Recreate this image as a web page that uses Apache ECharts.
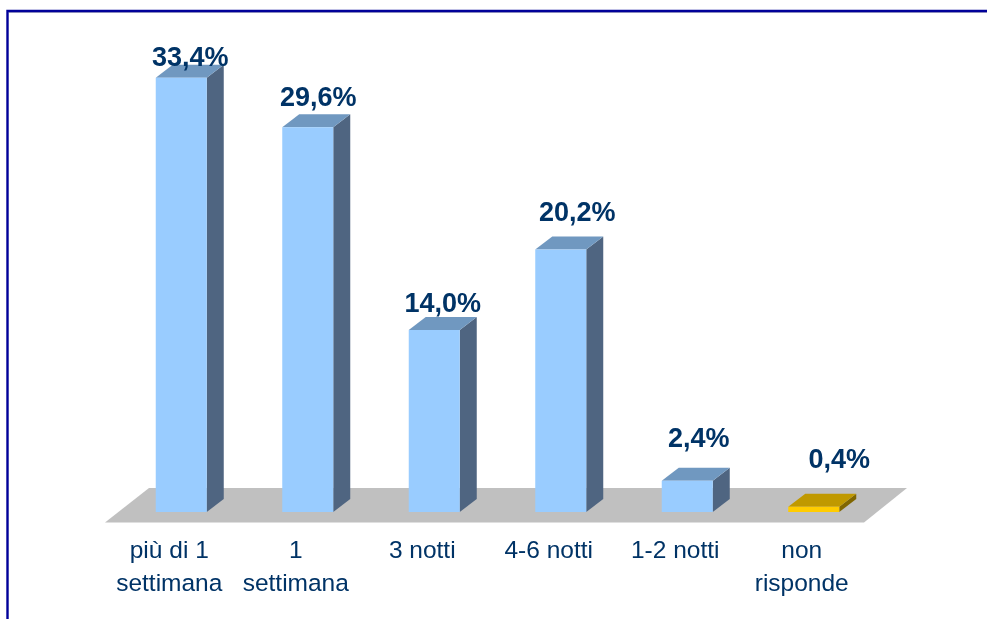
<!DOCTYPE html>
<html><head><meta charset="utf-8">
<style>html,body{margin:0;padding:0;background:#fff}
#c{width:987px;height:619px;position:relative}
#chart{width:987px;height:619px}
</style>
<script src="https://cdn.jsdelivr.net/npm/echarts@6/dist/echarts.min.js"></script>
</head><body><div id="c"><div id="chart"></div></div>
<script>
const categories = ['più di 1\nsettimana','1\nsettimana','3 notti','4-6 notti','1-2 notti','non\nrisponde'];
const values = [33.4,29.6,14.0,20.2,2.4,0.4];
const valueLabels = ['33,4%','29,6%','14,0%','20,2%','2,4%','0,4%'];
const labelNudgeY = [-7,2,-1,9,15,20];
const labelNudgeX = [0.5,2,0,8,3,17];
const faceColors = ['#99CCFF','#99CCFF','#99CCFF','#99CCFF','#99CCFF','#FFCC00'];
const topColors = ['#7098C0','#7098C0','#7098C0','#7098C0','#7098C0','#C09900'];
const sideColors = ['#4F6581','#4F6581','#4F6581','#4F6581','#4F6581','#806600'];
const DX=17, DY=13, INK='#003366', FRAME='#000099';

const chart = echarts.init(document.getElementById('chart'),null,{renderer:'canvas'});
chart.setOption({
  animation:false,
  backgroundColor:'#fff',
  graphic:[
    {type:'line',silent:true,z:0,shape:{x1:9,y1:12.5,x2:987,y2:12.5},style:{stroke:'#B8B8C8',lineWidth:1}},
    {type:'polyline',silent:true,z:0,shape:{points:[[7.5,619],[7.5,11],[987,11]]},style:{fill:'none',stroke:FRAME,lineWidth:2.4}}
  ],
  grid:{left:118,right:110,top:57,bottom:107},
  xAxis:{type:'category',data:categories,axisLine:{show:false},axisTick:{show:false},
    axisLabel:{color:INK,fontFamily:'Liberation Sans',fontSize:24.5,lineHeight:33,margin:23,padding:[0,24,0,0],interval:0}},
  yAxis:{type:'value',min:0,max:35,show:false},
  series:[
    {type:'custom',silent:true,z:1,data:[0],
     renderItem(p,api){
       const cs=p.coordSys,y0=api.coord([0,0])[1];
       const b=y0+10.5,t=y0-24;
       return {type:'polygon',shape:{points:[[cs.x-13,b],[cs.x+cs.width-13,b],[cs.x+cs.width+30,t],[cs.x+31,t]]},
         style:{fill:'#C0C0C0'}};
     }},
    {type:'custom',silent:true,z:2,data:values.map((v,i)=>[i,v]),
     renderItem(p,api){
       const i=api.value(0),v=api.value(1);
       const c=api.coord([i,v]),b=api.coord([i,0]);
       const w=51,l=c[0]-w/2,r=l+w,t=c[1],y0=b[1];
       return {type:'group',children:[
         {type:'polygon',shape:{points:[[r,t],[r+DX,t-DY],[r+DX,y0-DY],[r,y0]]},style:{fill:sideColors[i]}},
         {type:'polygon',shape:{points:[[l,t],[l+DX,t-DY],[r+DX,t-DY],[r,t]]},style:{fill:topColors[i]}},
         {type:'rect',shape:{x:l,y:t,width:w,height:y0-t},style:{fill:faceColors[i]}},
         {type:'text',x:c[0]+DX/2+labelNudgeX[i],y:t-DY-labelNudgeY[i],style:{text:valueLabels[i],fill:INK,
           font:'bold 27px "Liberation Sans"',align:'center',verticalAlign:'bottom'}}
       ]};
     }}
  ]
});
</script></body></html>
